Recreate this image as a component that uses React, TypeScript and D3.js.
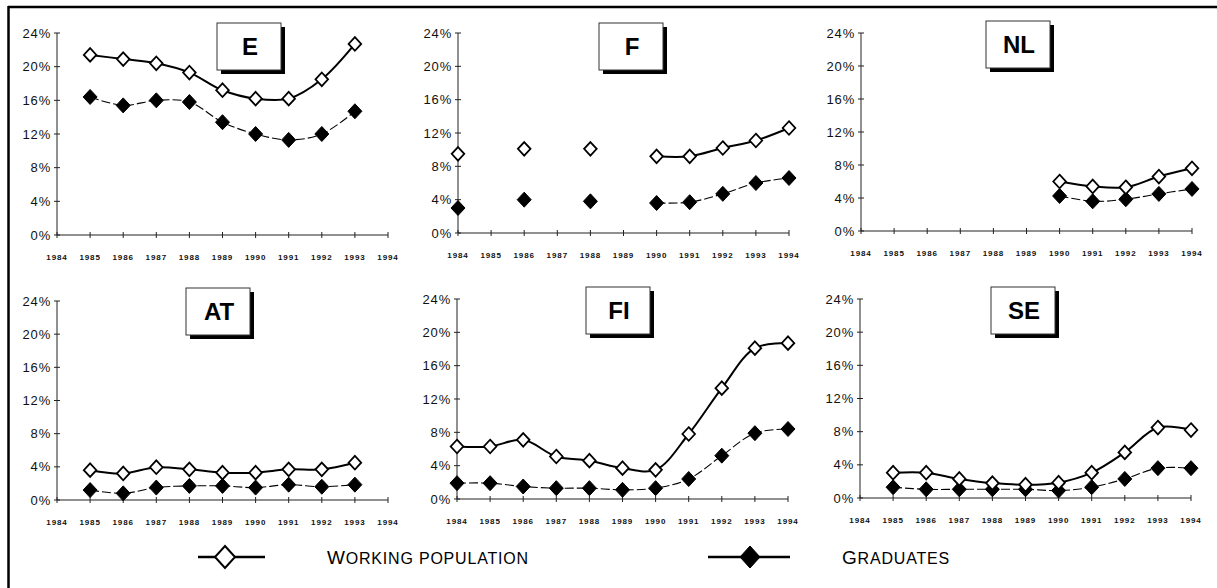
import React from "react";
import * as d3 from "d3";

// ---------- DATA ----------
const years = [1984, 1985, 1986, 1987, 1988, 1989, 1990, 1991, 1992, 1993, 1994];
const yTicks = [0, 4, 8, 12, 16, 20, 24];

const E_work = [null, 21.4, 20.9, 20.4, 19.3, 17.2, 16.2, 16.2, 18.5, 22.7, null];
const E_grad = [null, 16.4, 15.4, 16.0, 15.8, 13.4, 12.0, 11.3, 12.0, 14.7, null];
const F_work = [9.5, null, 10.1, null, 10.1, null, 9.2, 9.2, 10.2, 11.1, 12.6];
const F_grad = [3.0, null, 4.0, null, 3.8, null, 3.6, 3.7, 4.7, 6.0, 6.6];
const NL_work = [null, null, null, null, null, null, 6.0, 5.4, 5.3, 6.6, 7.6];
const NL_grad = [null, null, null, null, null, null, 4.25, 3.6, 3.85, 4.5, 5.1];
const AT_work = [null, 3.6, 3.2, 3.95, 3.7, 3.3, 3.3, 3.7, 3.7, 4.5, null];
const AT_grad = [null, 1.2, 0.8, 1.5, 1.7, 1.7, 1.5, 1.85, 1.6, 1.85, null];
const FI_work = [6.3, 6.3, 7.1, 5.1, 4.6, 3.7, 3.5, 7.8, 13.3, 18.1, 18.7];
const FI_grad = [1.9, 1.9, 1.5, 1.3, 1.3, 1.1, 1.3, 2.4, 5.2, 7.9, 8.4];
const SE_work = [null, 3.05, 3.05, 2.3, 1.8, 1.6, 1.85, 3.05, 5.5, 8.5, 8.2];
const SE_grad = [null, 1.3, 1.05, 1.05, 1.05, 1.05, 0.9, 1.3, 2.3, 3.6, 3.6];

const countries = ["E", "F", "NL", "AT", "FI", "SE"];
const workSeries = [E_work, F_work, NL_work, AT_work, FI_work, SE_work];
const gradSeries = [E_grad, F_grad, NL_grad, AT_grad, FI_grad, SE_grad];

const legendLabels = ["Working population", "Graduates"];

// ---------- LAYOUT ----------
const layout = [
  { ax: 57, y0: 235, y24: 33, bx: 217, by: 23 },
  { ax: 458, y0: 233, y24: 33, bx: 599, by: 23 },
  { ax: 861, y0: 231, y24: 33, bx: 986, by: 21 },
  { ax: 57, y0: 500, y24: 301, bx: 186, by: 288 },
  { ax: 457, y0: 499, y24: 299, bx: 586, by: 287 },
  { ax: 860, y0: 498, y24: 299, bx: 991, by: 287 },
];
const PW = 331;
const FONT = "Arial, 'Liberation Sans', Helvetica, sans-serif";

function diamond(cx: number, cy: number, w: number, h: number) {
  return `M${cx},${cy - h}L${cx + w},${cy}L${cx},${cy + h}L${cx - w},${cy}Z`;
}

type Pt = { year: number; v: number | null };

function Panel({ idx }: { idx: number }) {
  const L = layout[idx];
  const x = d3.scaleLinear().domain([1984, 1994]).range([L.ax, L.ax + PW]);
  const y = d3.scaleLinear().domain([0, 24]).range([L.y0, L.y24]);
  const toPts = (arr: (number | null)[]): Pt[] => years.map((yr, i) => ({ year: yr, v: arr[i] }));
  const work = toPts(workSeries[idx]);
  const grad = toPts(gradSeries[idx]);
  const line = d3
    .line<Pt>()
    .x((d) => x(d.year))
    .y((d) => y(d.v as number))
    .curve(d3.curveCatmullRom.alpha(0.5));
  const segs = (pts: Pt[]) => {
    const out: Pt[][] = [];
    let cur: Pt[] = [];
    pts.forEach((p) => {
      if (p.v == null) {
        if (cur.length) out.push(cur);
        cur = [];
      } else cur.push(p);
    });
    if (cur.length) out.push(cur);
    return out.filter((s) => s.length > 1);
  };
  return (
    <g>
      {/* y axis */}
      <line x1={L.ax} x2={L.ax} y1={y(0)} y2={y(24)} stroke="#222" strokeWidth={1} />
      {yTicks.map((t) => (
        <g key={t}>
          <line x1={L.ax - 3} x2={L.ax + 3} y1={y(t)} y2={y(t)} stroke="#222" strokeWidth={1} />
          <text
            x={L.ax - 6}
            y={y(t) + 4.5}
            textAnchor="end"
            fontFamily={FONT}
            fontSize={13}
            letterSpacing={0.8}
            fill="#111"
          >
            {t}%
          </text>
        </g>
      ))}
      {/* x axis */}
      <line x1={x(1984)} x2={x(1994)} y1={y(0)} y2={y(0)} stroke="#222" strokeWidth={1.2} />
      {years.map((yr) => (
        <g key={yr}>
          <line x1={x(yr)} x2={x(yr)} y1={y(0) - 3} y2={y(0) + 3} stroke="#222" strokeWidth={1} />
          <text
            x={x(yr)}
            y={y(0) + 25}
            textAnchor="middle"
            fontFamily={FONT}
            fontSize={8}
            fontWeight="bold"
            letterSpacing={0.9}
            fill="#111"
          >
            {yr}
          </text>
        </g>
      ))}
      {/* lines */}
      {segs(grad).map((s, i) => (
        <path key={"g" + i} d={line(s) || ""} fill="none" stroke="#000" strokeWidth={1.1} strokeDasharray="9,3" />
      ))}
      {segs(work).map((s, i) => (
        <path key={"w" + i} d={line(s) || ""} fill="none" stroke="#000" strokeWidth={2} />
      ))}
      {/* markers */}
      {grad
        .filter((d) => d.v != null)
        .map((d) => (
          <path key={"gm" + d.year} d={diamond(x(d.year), y(d.v as number), 7, 7.5)} fill="#000" stroke="#000" strokeWidth={1} />
        ))}
      {work
        .filter((d) => d.v != null)
        .map((d) => (
          <path key={"wm" + d.year} d={diamond(x(d.year), y(d.v as number), 6.3, 6.8)} fill="#fff" stroke="#000" strokeWidth={1.8} />
        ))}
      {/* title box */}
      <rect x={L.bx + 4} y={L.by + 4} width={64} height={47} fill="#000" />
      <rect x={L.bx} y={L.by} width={64} height={47} fill="#fff" stroke="#333" strokeWidth={1} />
      <text
        x={L.bx + 33}
        y={L.by + 32}
        textAnchor="middle"
        fontFamily={FONT}
        fontSize={24}
        fontWeight="bold"
        fill="#000"
      >
        {countries[idx]}
      </text>
    </g>
  );
}

function SmallCaps({ x, y, label }: { x: number; y: number; label: string }) {
  const words = label.split(" ");
  return (
    <text x={x} y={y} fontFamily={FONT} fill="#000" letterSpacing={0.8}>
      {words.map((w, i) => (
        <React.Fragment key={i}>
          <tspan fontSize={i === 0 ? 19 : 16}>{(i > 0 ? " " : "") + w[0].toUpperCase()}</tspan>
          <tspan fontSize={16}>{w.slice(1).toUpperCase()}</tspan>
        </React.Fragment>
      ))}
    </text>
  );
}

export default function App() {
  const LY = 557;
  return (
    <div style={{ position: "absolute", left: 0, top: 0 }}>
      <svg width={1217} height={588} style={{ display: "block", background: "#fff" }}>
        <rect x={0} y={0} width={1217} height={588} fill="#fff" />
        {/* frame */}
        <line x1={8} x2={1217} y1={7} y2={7} stroke="#000" strokeWidth={2.5} />
        <line x1={8.5} x2={8.5} y1={6} y2={588} stroke="#000" strokeWidth={2.5} />
        {countries.map((c, i) => (
          <Panel key={c} idx={i} />
        ))}
        {/* legend */}
        <line x1={198} x2={265} y1={LY} y2={LY} stroke="#000" strokeWidth={2.5} />
        <path d={diamond(225, LY, 10, 11)} fill="#fff" stroke="#000" strokeWidth={2} />
        <SmallCaps x={327} y={LY + 7} label={legendLabels[0]} />
        <line x1={708} x2={790} y1={LY} y2={LY} stroke="#000" strokeWidth={2.5} />
        <path d={diamond(750, LY, 10, 11)} fill="#000" stroke="#000" strokeWidth={1} />
        <SmallCaps x={842} y={LY + 7} label={legendLabels[1]} />
      </svg>
    </div>
  );
}
